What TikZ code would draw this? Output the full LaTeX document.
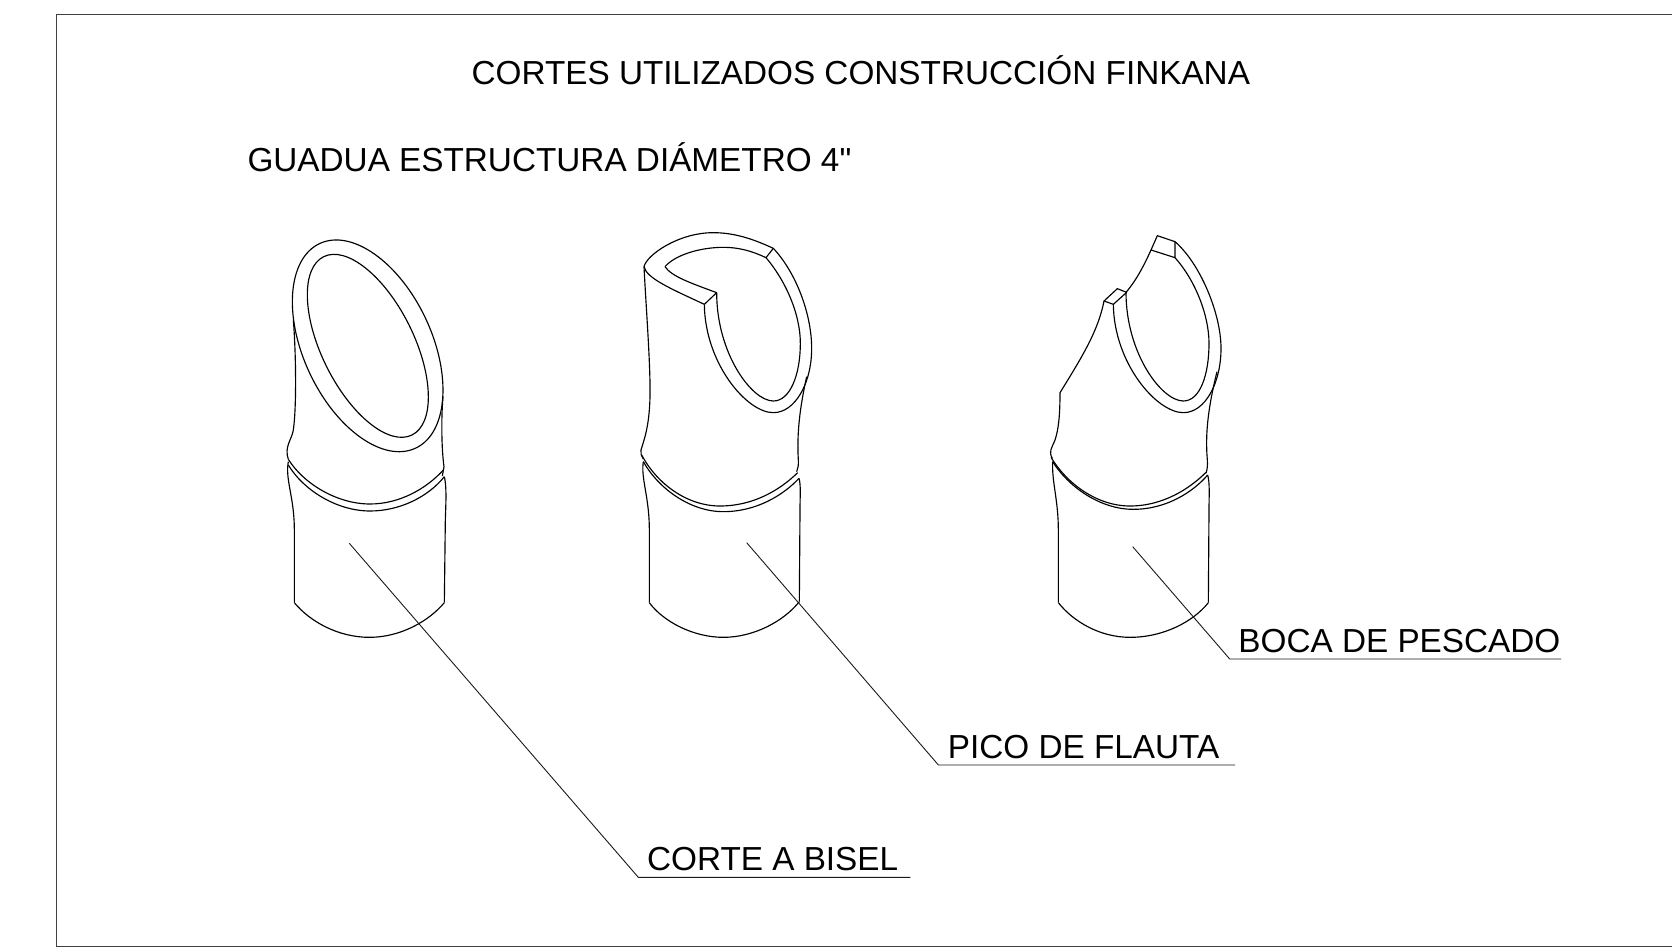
\documentclass[tikz,border=0pt]{standalone}
\usepackage{fontspec}
\setmainfont{Liberation Sans}
\newfontfamily\straightfont{Liberation Sans}
\tikzset{
  tubeline/.style={line width=1.15pt,line join=round},
  leaderline/.style={line width=0.9pt,black!90},
  framedraw/.style={line width=1pt,black!75},
  bigtext/.style={inner sep=0pt,anchor=base west,font=\fontsize{33.3}{40}\selectfont},
  smallzoom/.style={scale=1/3},
}
\begin{document}
\begin{tikzpicture}[x=1pt,y=-1pt]
\useasboundingbox (0,0) rectangle (1672,947);
\draw[framedraw]
  (1672,14.7) -- (56.3,14.7) -- (56.3,946.3) -- (1672,946.3);
\node[bigtext] (title) at (471.5,85) {CORTES UTILIZADOS CONSTRUCCIÓN FINKANA};
\node[bigtext] (subtitle) at (247.3,171.7) {GUADUA ESTRUCTURA DIÁMETRO 4{\straightfont "}};
% corte a bisel
\begin{scope}[shift={(260,220)},smallzoom,tubeline]
\draw[shift={(323,377.5)},rotate=-64.85] (0,0) ellipse [x radius=339,y radius=192.3];
\draw[shift={(323.5,377.5)},rotate=-63.65] (0,0) ellipse [x radius=298.5,y radius=138.5];
\draw (100,300) .. controls (108,400) and (110,560) .. (100,630)
  .. controls (95,660) and (72,680) .. (85,718);
\draw (549,530) .. controls (543,600) and (545,690) .. (552,740) -- (547,768);
\draw (85,718) .. controls (130,790) and (230,852) .. (330,852)
  .. controls (420,852) and (500,805) .. (550,750);
\draw (85,735) .. controls (130,810) and (230,873) .. (330,873)
  .. controls (420,873) and (505,830) .. (553,770);
\draw (85,725) .. controls (75,780) and (103,830) .. (103,930) -- (103,1148);
\draw (553,770) .. controls (560,800) and (558,840) .. (556,900) -- (553,1148);
\draw (103,1148) .. controls (150,1205) and (235,1252) .. (328,1252)
  .. controls (420,1252) and (505,1205) .. (553,1148);
\end{scope}
% pico de flauta
\begin{scope}[shift={(620,220)},smallzoom,tubeline]
\draw (72,140) .. controls (80,105) and (175,38) .. (280,38)
  .. controls (350,38) and (410,62) .. (460,85);
\draw (135,140) .. controls (165,105) and (240,82) .. (310,82)
  .. controls (360,82) and (400,95) .. (438,113);
\draw (460,85) -- (438,113);
\draw (460,85) .. controls (530,160) and (575,285) .. (575,385)
  .. controls (575,490) and (525,578) .. (460,578)
  .. controls (380,578) and (255,430) .. (253,253);
\draw (438,113) .. controls (495,180) and (541,280) .. (541,370)
  .. controls (541,465) and (510,543) .. (460,543)
  .. controls (395,543) and (290,400) .. (290,218);
\draw (253,253) -- (290,218);
\draw (72,140) .. controls (80,175) and (150,205) .. (253,253);
\draw (135,140) .. controls (155,170) and (215,190) .. (290,218);
\draw (72,140) .. controls (78,260) and (92,440) .. (90,530)
  .. controls (88,620) and (72,660) .. (63,690)
  .. controls (61,700) and (64,708) .. (70,717);
\draw (560,470) .. controls (540,560) and (530,640) .. (535,720)
  .. controls (536,735) and (534,745) .. (530,755);
\draw (65,705) .. controls (110,790) and (200,858) .. (300,858)
  .. controls (400,858) and (480,810) .. (533,758);
\draw (70,725) .. controls (115,805) and (210,875) .. (310,875)
  .. controls (410,875) and (490,825) .. (537,775);
\draw (70,725) .. controls (62,775) and (88,830) .. (88,930) -- (88,1148);
\draw (537,775) .. controls (543,795) and (540,830) .. (540,870) -- (538,1145);
\draw (88,1148) .. controls (130,1205) and (220,1252) .. (310,1252)
  .. controls (400,1252) and (490,1205) .. (538,1145);
\end{scope}
% boca de pescado
\begin{scope}[shift={(1030,220)},smallzoom,tubeline]
\draw (435,113) -- (363,90) -- (382,47) -- (435,65) -- cycle;
\draw (290,217) -- (262,206) -- (222,243) -- (250,253) -- cycle;
\draw (435,65) .. controls (510,130) and (573,280) .. (573,385)
  .. controls (573,490) and (525,578) .. (460,578)
  .. controls (380,578) and (252,430) .. (250,253);
\draw (435,113) .. controls (495,180) and (537,285) .. (537,370)
  .. controls (537,465) and (510,543) .. (460,543)
  .. controls (395,543) and (288,400) .. (288,217);
\draw (288,217) .. controls (320,180) and (345,130) .. (363,90);
\draw (222,243) .. controls (205,330) and (160,405) .. (90,518)
  .. controls (90,590) and (85,630) .. (75,660)
  .. controls (65,685) and (55,695) .. (67,715);
\draw (561,455) .. controls (535,560) and (525,640) .. (532,720)
  .. controls (533,735) and (532,748) .. (528,760);
\draw (63,712) .. controls (110,790) and (200,858) .. (300,858)
  .. controls (400,858) and (480,805) .. (528,757);
\draw (68,725) .. controls (115,800) and (210,868) .. (310,868)
  .. controls (410,868) and (490,815) .. (533,765);
\draw (68,725) .. controls (65,785) and (85,840) .. (85,930) -- (85,1148);
\draw (533,765) .. controls (540,790) and (537,830) .. (537,870) -- (535,1148);
\draw (85,1148) .. controls (130,1205) and (210,1252) .. (300,1252)
  .. controls (400,1252) and (490,1205) .. (535,1148);
\end{scope}
% labels
\node[bigtext] (bisel) at (646.9,870.3) {CORTE A BISEL};
\node[bigtext] (flauta) at (947.7,758.7) {PICO DE FLAUTA};
\node[bigtext] (pescado) at (1238.2,652) {BOCA DE PESCADO};
\coordinate (biseltip) at (349.3,543.3);
\coordinate (biselfoot) at (638.3,877.3);
\coordinate (biselend) at (910.4,877.3);
\coordinate (flautatip) at (746.7,542.7);
\coordinate (flautafoot) at (938.4,765);
\coordinate (flautaend) at (1235,765);
\coordinate (pescadotip) at (1132.7,546.7);
\coordinate (pescadofoot) at (1229.7,659);
\coordinate (pescadoend) at (1561,659);
\draw[leaderline] (biseltip) -- (biselfoot) -- (biselend);
\draw[leaderline] (flautatip) -- (flautafoot) -- (flautaend);
\draw[leaderline] (pescadotip) -- (pescadofoot) -- (pescadoend);
\end{tikzpicture}
\end{document}
